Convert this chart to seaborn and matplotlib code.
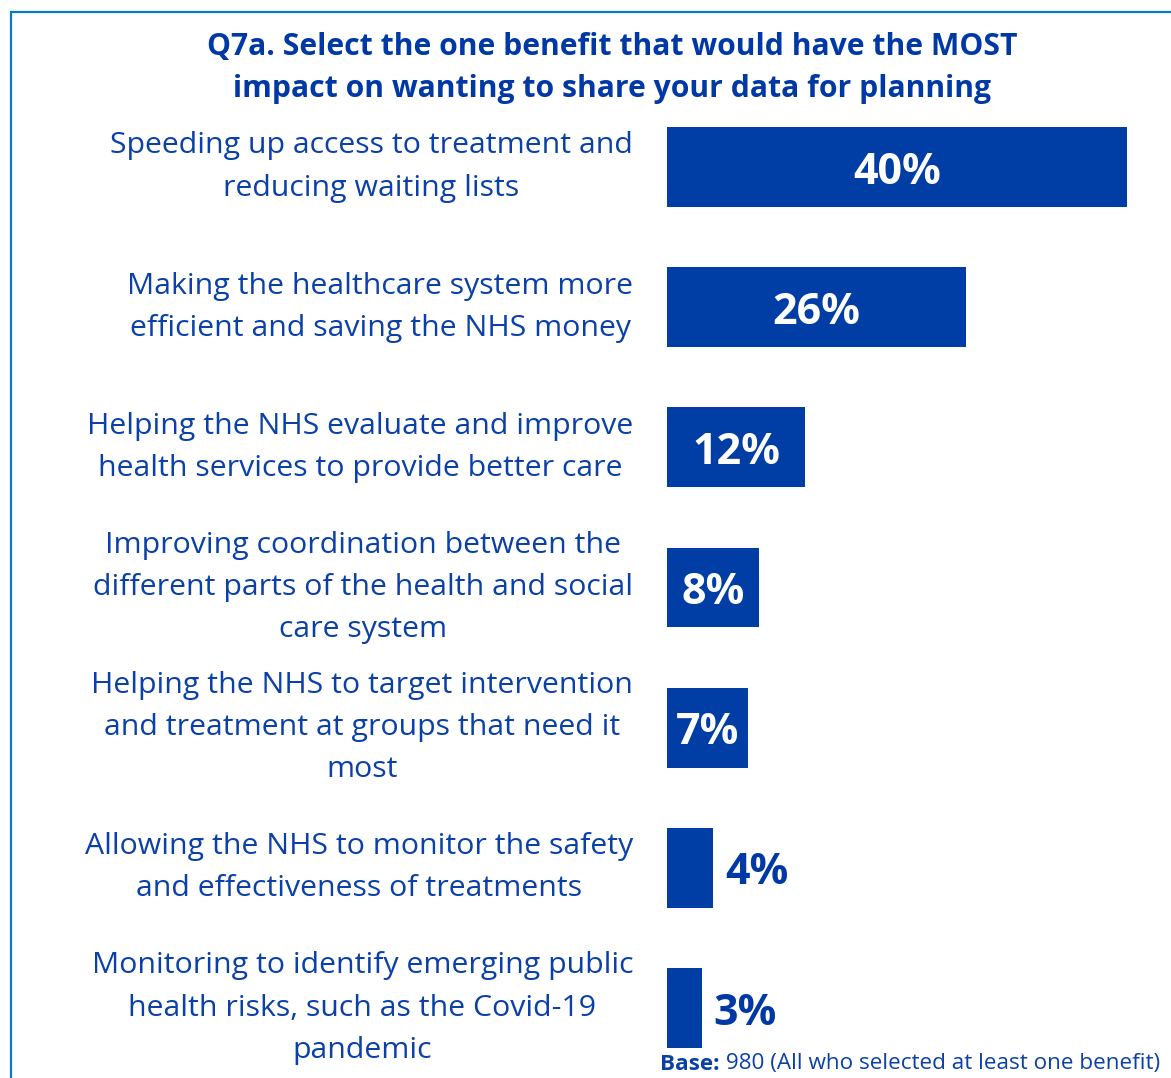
import matplotlib
matplotlib.use("Agg")
import matplotlib.pyplot as plt
import matplotlib.patches as mpatches
import seaborn as sns
import pandas as pd

# Survey question and answer options
title_lines = [
    "Q7a. Select the one benefit that would have the MOST",
    "impact on wanting to share your data for planning",
]
benefits = [
    "Speeding up access to treatment and\nreducing waiting lists",
    "Making the healthcare system more\nefficient and saving the NHS money",
    "Helping the NHS evaluate and improve\nhealth services to provide better care",
    "Improving coordination between the\ndifferent parts of the health and social\ncare system",
    "Helping the NHS to target intervention\nand treatment at groups that need it\nmost",
    "Allowing the NHS to monitor the safety\nand effectiveness of treatments",
    "Monitoring to identify emerging public\nhealth risks, such as the Covid-19\npandemic",
]
shares = [40, 26, 12, 8, 7, 4, 3]
base_bold = "Base:"
base_rest = " 980 (All who selected at least one benefit)"

BAR = "#003DA5"
TEXT = "#0A40A8"
TITLE = "#0039A6"
FRAME = "#0A78C8"

W, H = 1171, 1078
DPI = 100
sns.set_theme(style="white")
plt.rcParams["font.family"] = ["Open Sans", "DejaVu Sans"]

fig = plt.figure(figsize=(W / DPI, H / DPI), dpi=DPI)

# Axes area in pixels
x0, px_per_unit = 667, 11.5
xmax = 44
row_px = 140.17
top_center = 167
ax_top = top_center - row_px / 2
ax_bottom = ax_top + row_px * len(shares)
ax = fig.add_axes([x0 / W, 1 - ax_bottom / H, xmax * px_per_unit / W, (ax_bottom - ax_top) / H])

df = pd.DataFrame({"benefit": benefits, "share": shares})
sns.barplot(data=df, x="share", y="benefit", orient="h", color=BAR,
            saturation=1, width=0.57, ax=ax, edgecolor="none")
ax.set_xlim(0, xmax)
ax.set_ylim(len(shares) - 0.5, -0.5)
ax.axis("off")

label_x = -(x0 - 633) / (xmax * px_per_unit)
for i, (lab, v) in enumerate(zip(benefits, shares)):
    ax.text(label_x, i, lab, transform=ax.get_yaxis_transform(), ha="right",
            va="center", multialignment="center", fontsize=21.8, color=TEXT,
            linespacing=1.6)
    if v >= 7:
        ax.text(v / 2, i, f"{v}%", ha="center", va="center_baseline",
                fontsize=31, fontweight="bold", color="white")
    else:
        ax.text(v + 1.05, i, f"{v}%", ha="left", va="center_baseline",
                fontsize=31, fontweight="bold", color=TITLE)

# Title
fig.text(612 / W, 1 - 47 / H, title_lines[0], ha="center", va="center",
         fontsize=21.7, fontweight="bold", color=TITLE)
fig.text(612 / W, 1 - 89 / H, title_lines[1], ha="center", va="center",
         fontsize=21.7, fontweight="bold", color=TITLE)

# Base note
t = fig.text(660 / W, 1 - 1064 / H, base_bold, ha="left", va="center",
             fontsize=16.2, fontweight="bold", color=TEXT)
fig.canvas.draw()
bb = t.get_window_extent()
fig.text((bb.x1) / W, 1 - 1064 / H, base_rest, ha="left", va="center",
         fontsize=16.2, color=TEXT)

# Frame around the chart
frame = mpatches.Rectangle((11 / W, -0.01), 1.05, 1 - 12 / H + 0.01,
                           transform=fig.transFigure, fill=False,
                           edgecolor=FRAME, linewidth=1.6, clip_on=False)
fig.add_artist(frame)

fig.savefig("out.png", dpi=DPI, facecolor="white")
